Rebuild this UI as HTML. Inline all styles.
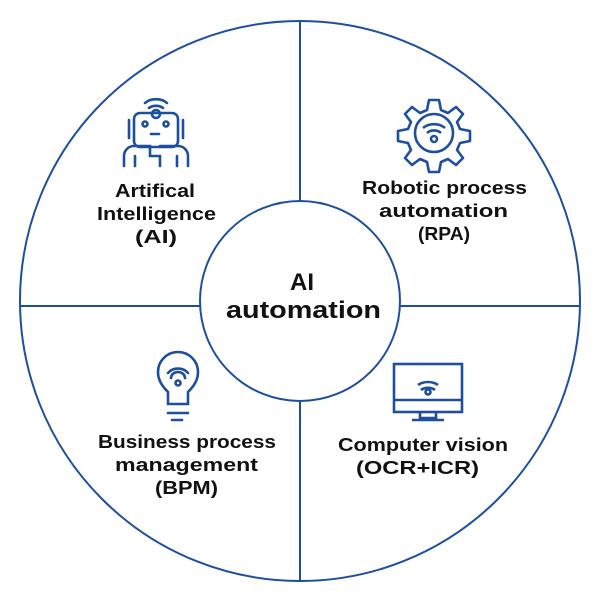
<!DOCTYPE html>
<html><head><meta charset="utf-8"><style>
html,body{margin:0;padding:0;background:#fff;}
text{font-family:"Liberation Sans",sans-serif;font-weight:bold;fill:#111;}
</style></head><body>
<svg width="600" height="600" viewBox="0 0 600 600" xmlns="http://www.w3.org/2000/svg">
<g stroke="#1d4f9e" stroke-width="2" fill="none">
<circle cx="300" cy="301" r="280"/>
<line x1="300" y1="21" x2="300" y2="201"/>
<line x1="300" y1="401" x2="300" y2="581"/>
<line x1="20" y1="306" x2="200" y2="306"/>
<line x1="400" y1="306" x2="580" y2="306"/>
<circle cx="300" cy="301" r="100" fill="#fff"/>
</g>
<g stroke="#1d4f9e" stroke-width="2.6" fill="none" stroke-linecap="round">
<path d="M145 103 a14 10 0 0 1 22 0"/>
<path d="M149 108 a9 6 0 0 1 14 0"/>
<circle cx="156" cy="114" r="4"/>
<rect x="134" y="113" width="44" height="34" rx="6"/>
<circle cx="145" cy="124" r="2.5"/><circle cx="166" cy="124" r="2.5"/>
<line x1="151" y1="134" x2="159" y2="134"/>
<path d="M129 120 v18 M183 120 v18"/>
<path d="M124 166 v-10 a10 10 0 0 1 10-10 h16 v10 h10 v10 M160 146 h18 a10 10 0 0 1 10 10 v10"/>
<path d="M135 156 v10 M177 156 v10"/>
</g>
<g stroke="#1d4f9e" stroke-width="2.6" fill="none" stroke-linejoin="round">
<path d="M429 100 h10 l2 10 l7 3 l8-6 l7 7 l-6 8 l3 7 l10 2 v10 l-10 2 l-3 7 l6 8 l-7 7 l-8-6 l-7 3 l-2 10 h-10 l-2-10 l-7-3 l-8 6 l-7-7 l6-8 l-3-7 l-10-2 v-10 l10-2 l3-7 l-6-8 l7-7 l8 6 l7-3 z"/>
<circle cx="434" cy="133" r="19"/>
<path d="M423 128 a15 12 0 0 1 22 0 M427 133 a9 7 0 0 1 14 0"/>
<circle cx="434" cy="139" r="3"/>
</g>
<g stroke="#1d4f9e" stroke-width="2.6" fill="none" stroke-linecap="round">
<path d="M168 404 v-12 c-6-6-10-12-10-20 a20 20 0 0 1 40 0 c0 8-4 14-10 20 v12 z"/>
<path d="M168 413 h20 M172 420 h10"/>
<path d="M168 373 a12 10 0 0 1 20 0 M171 378 a7 6 0 0 1 14 0"/>
<circle cx="178" cy="383" r="2.5"/>
</g>
<g stroke="#1d4f9e" stroke-width="2.6" fill="none">
<rect x="394" y="364" width="68" height="48"/>
<line x1="394" y1="400" x2="462" y2="400"/>
<path d="M420 412 v6 h16 v-6 M412 420 h32"/>
<path d="M418 385 a14 10 0 0 1 20 0 M421 390 a9 6 0 0 1 14 0"/>
<circle cx="428" cy="392" r="2.5"/>
</g>
<g font-size="18" lengthAdjust="spacingAndGlyphs">
<text x="115" y="197" textLength="80" lengthAdjust="spacingAndGlyphs">Artifical</text>
<text x="97" y="220" textLength="119" lengthAdjust="spacingAndGlyphs">Intelligence</text>
<text x="135" y="243" textLength="42" lengthAdjust="spacingAndGlyphs">(AI)</text>
<text x="362" y="194" textLength="165" lengthAdjust="spacingAndGlyphs">Robotic process</text>
<text x="379" y="217" textLength="129" lengthAdjust="spacingAndGlyphs">automation</text>
<text x="418" y="240" textLength="52" lengthAdjust="spacingAndGlyphs">(RPA)</text>
<text x="98" y="448" textLength="178" lengthAdjust="spacingAndGlyphs">Business process</text>
<text x="115" y="471" textLength="143" lengthAdjust="spacingAndGlyphs">management</text>
<text x="155" y="494" textLength="63" lengthAdjust="spacingAndGlyphs">(BPM)</text>
<text x="338" y="451" textLength="170" lengthAdjust="spacingAndGlyphs">Computer vision</text>
<text x="356" y="474" textLength="123" lengthAdjust="spacingAndGlyphs">(OCR+ICR)</text>
</g>
<g font-size="24">
<text x="290" y="290" textLength="24" lengthAdjust="spacingAndGlyphs">AI</text>
<text x="226" y="318" textLength="155" lengthAdjust="spacingAndGlyphs">automation</text>
</g>
</svg>
</body></html>
